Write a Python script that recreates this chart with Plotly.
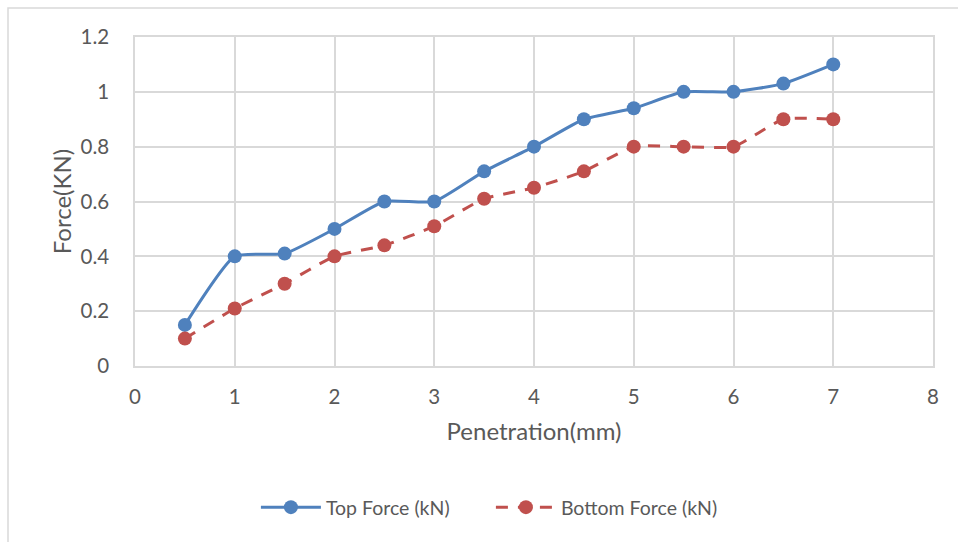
import plotly.graph_objects as go

penetration = [0.5, 1, 1.5, 2, 2.5, 3, 3.5, 4, 4.5, 5, 5.5, 6, 6.5, 7]
top_force = [0.15, 0.40, 0.41, 0.50, 0.60, 0.60, 0.71, 0.80, 0.90, 0.94, 1.00, 1.00, 1.03, 1.10]
bottom_force = [0.10, 0.21, 0.30, 0.40, 0.44, 0.51, 0.61, 0.65, 0.71, 0.80, 0.80, 0.80, 0.90, 0.90]

FONT = "Lato, 'Open Sans', sans-serif"
TXT = "#595959"
GRID = "#d9d9d9"

fig = go.Figure()
fig.add_trace(go.Scatter(
    x=penetration, y=top_force, name="Top Force (kN)", mode="lines+markers",
    line=dict(color="#4f81bd", width=3, shape="spline", smoothing=0.5),
    marker=dict(color="#4f81bd", size=14),
))
fig.add_trace(go.Scatter(
    x=penetration, y=bottom_force, name="Bottom Force (kN)", mode="lines+markers",
    line=dict(color="#c0504d", width=3, shape="spline", smoothing=0.5, dash="12px,10px"),
    marker=dict(color="#c0504d", size=14),
))

fig.update_layout(
    width=958, height=542,
    margin=dict(l=135, r=25, t=37, b=176),
    paper_bgcolor="white", plot_bgcolor="white",
    font=dict(family=FONT, color=TXT, size=20),
    showlegend=True,
    legend=dict(orientation="h", x=0.446, xanchor="center", y=-0.43, yanchor="middle",
                font=dict(size=19.5, color=TXT), itemwidth=60, tracegroupgap=0,
                entrywidth=160, entrywidthmode="pixels"),
    xaxis=dict(range=[0, 8], dtick=1, showgrid=True, gridcolor=GRID, gridwidth=1.5,
               zeroline=False, showline=True, linecolor=GRID, linewidth=1.5, mirror=True,
               ticks="", tickfont=dict(size=20.5, color=TXT), ticklabelstandoff=12,
               title=dict(text="Penetration(mm)", font=dict(size=24, color=TXT), standoff=16)),
    yaxis=dict(range=[0, 1.2], dtick=0.2, showgrid=True, gridcolor=GRID, gridwidth=1.5,
               zeroline=False, showline=True, linecolor=GRID, linewidth=1.5, mirror=True,
               ticks="", tickfont=dict(size=20.5, color=TXT), ticklabelstandoff=20,
               title=dict(text="Force(KN)", font=dict(size=24, color=TXT), standoff=2)),
)
fig.add_shape(type="rect", xref="paper", yref="paper",
              x0=(8 - 135) / 798, x1=(958 - 135 + 5) / 798,
              y0=(366 - 545) / 329, y1=(366 - 8) / 329,
              line=dict(color=GRID, width=1.5), layer="below")

fig.write_html("out.html")
